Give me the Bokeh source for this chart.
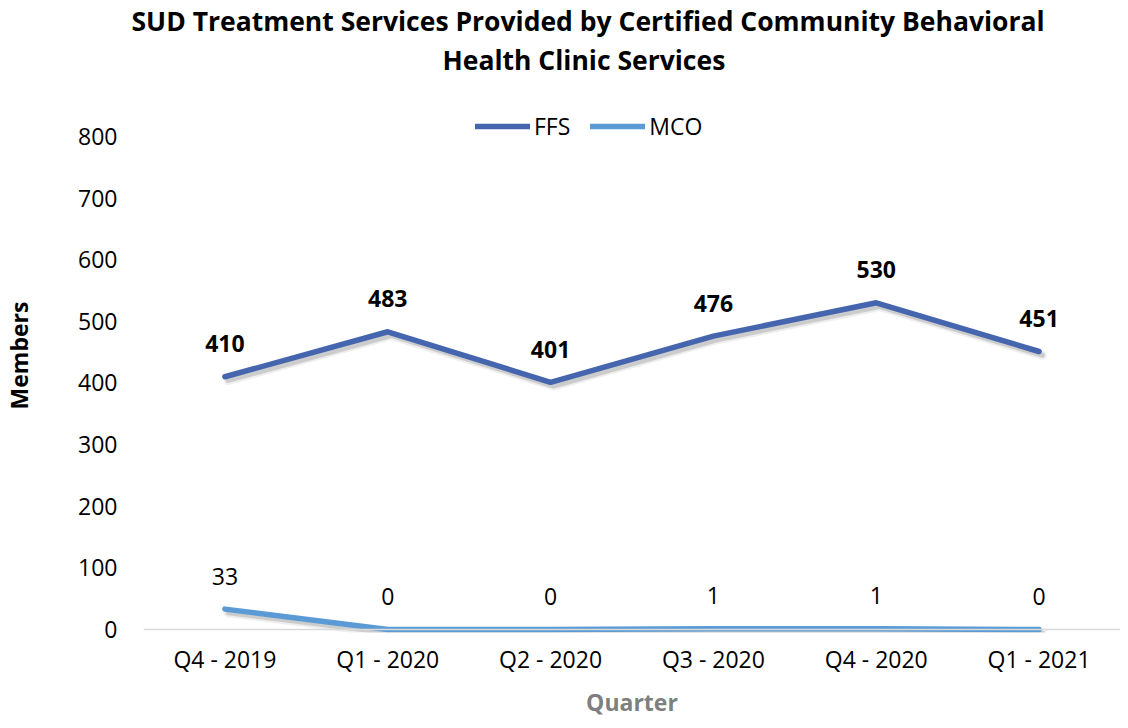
from bokeh.plotting import figure
from bokeh.models import (ColumnDataSource, FactorRange, Range1d, Span, Legend, LegendItem,
                          Title, FixedTicker)
from bokeh.transform import dodge
from bokeh.core.properties import value
from bokeh.embed import file_html
from bokeh.resources import INLINE

quarters = ["Q4 - 2019", "Q1 - 2020", "Q2 - 2020", "Q3 - 2020", "Q4 - 2020", "Q1 - 2021"]
ffs = [410, 483, 401, 476, 530, 451]
mco = [33, 0, 0, 1, 1, 0]
y_ticks = [0, 100, 200, 300, 400, 500, 600, 700, 800]

title_line1 = "SUD Treatment Services Provided by Certified Community Behavioral"
title_line2 = "Health Clinic Services"

FONT = "Open Sans"
FFS_COLOR = "#4566AE"
MCO_COLOR = "#5B9BD5"

src = ColumnDataSource(dict(
    q=quarters, ffs=ffs, mco=mco,
    ffs_s=[v - 6 for v in ffs], mco_s=[v - 6 for v in mco],
    ffs_t=[str(v) for v in ffs], mco_t=[str(v) for v in mco],
))

p = figure(width=1120, height=720, x_range=FactorRange(*quarters, range_padding=0),
           y_range=Range1d(-4.9, 893.9), output_backend="svg", toolbar_location=None,
           min_border_left=139, min_border_right=0, min_border_top=0, min_border_bottom=0)
p.outline_line_color = None
p.xgrid.grid_line_color = None
p.ygrid.grid_line_color = None
p.background_fill_color = "white"
p.border_fill_color = "white"

# zero line
p.add_layout(Span(location=0, dimension="width", line_color="#d9d9d9", line_width=1.5))

# shadows
for col, w, a in (("ffs_s", 9, 0.10), ("ffs_s", 5, 0.22), ("mco_s", 9, 0.10), ("mco_s", 5, 0.22)):
    p.line(x=dodge("q", 0.02, range=p.x_range), y=col, source=src, line_color="#555555",
           line_width=w, line_alpha=a, line_join="round", line_cap="round")

r_ffs = p.line(x="q", y="ffs", source=src, line_color=FFS_COLOR, line_width=5.5,
               line_join="round", line_cap="round")
r_mco = p.line(x="q", y="mco", source=src, line_color=MCO_COLOR, line_width=5.5,
               line_join="round", line_cap="round")

p.text(x="q", y="ffs", text="ffs_t", source=src, text_font=value(FONT), text_font_size="23px",
       text_font_style="bold", text_color="#000000", text_align="center",
       text_baseline="middle", y_offset=-33)
p.text(x="q", y="mco", text="mco_t", source=src, text_font=value(FONT), text_font_size="23px",
       text_color="#000000", text_align="center", text_baseline="middle", y_offset=-33)

legend = Legend(items=[LegendItem(label="FFS", renderers=[r_ffs]),
                       LegendItem(label="MCO", renderers=[r_mco])],
                orientation="horizontal", location=(332, 490),
                label_text_font=FONT, label_text_font_size="23px", label_text_color="#000000",
                glyph_width=55, glyph_height=20, label_standoff=4, spacing=20, padding=0,
                margin=0, border_line_color=None, background_fill_alpha=0)
p.add_layout(legend, "center")

p.add_layout(Title(text=title_line2, align="left", text_font=FONT, text_font_size="26.5px",
                   text_font_style="bold", text_color="#000000", offset=299, standoff=2), "above")
p.add_layout(Title(text=title_line1, align="left", text_font=FONT, text_font_size="26.5px",
                   text_font_style="bold", text_color="#000000", offset=-12, standoff=0), "above")

# axes
p.xaxis.axis_line_color = None
p.xaxis.major_tick_line_color = None
p.xaxis.minor_tick_line_color = None
p.xaxis.major_tick_out = 0
p.xaxis.major_tick_in = 0
p.xaxis.major_label_text_font = FONT
p.xaxis.major_label_text_font_size = "23px"
p.xaxis.major_label_text_color = "#000000"
p.xaxis.major_label_text_line_height = 1.0
p.xaxis.major_label_standoff = 10
p.xaxis.axis_label = "Quarter"
p.xaxis.axis_label_text_font = FONT
p.xaxis.axis_label_text_font_size = "23px"
p.xaxis.axis_label_text_font_style = "bold"
p.xaxis.axis_label_text_color = "#7f7f7f"
p.xaxis.axis_label_text_line_height = 1.0
p.xaxis.axis_label_standoff = 8

p.yaxis.ticker = FixedTicker(ticks=y_ticks)
p.yaxis.axis_line_color = None
p.yaxis.major_tick_line_color = None
p.yaxis.minor_tick_line_color = None
p.yaxis.major_tick_out = 0
p.yaxis.major_tick_in = 0
p.yaxis.major_label_text_font = FONT
p.yaxis.major_label_text_font_size = "23px"
p.yaxis.major_label_text_color = "#000000"
p.yaxis.major_label_standoff = 26
p.yaxis.axis_label = "Members"
p.yaxis.axis_label_text_font = FONT
p.yaxis.axis_label_text_font_size = "23px"
p.yaxis.axis_label_text_font_style = "bold"
p.yaxis.axis_label_text_color = "#000000"
p.yaxis.axis_label_standoff = 40

open("out.html", "w").write(file_html(p, INLINE))
